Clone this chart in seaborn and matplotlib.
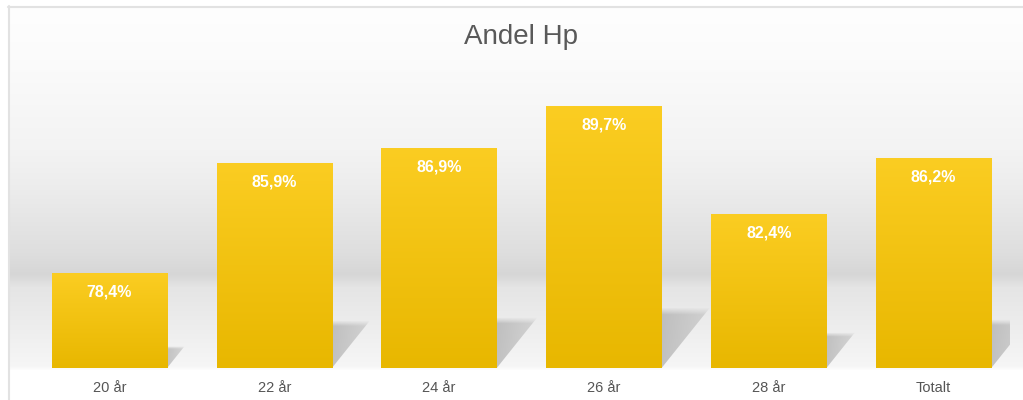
import numpy as np
import pandas as pd
import matplotlib
matplotlib.use('Agg')
import matplotlib.pyplot as plt
from matplotlib.colors import LinearSegmentedColormap
from matplotlib.patches import Polygon
import seaborn as sns

# data
categories = ['20 år', '22 år', '24 år', '26 år', '28 år', 'Totalt']
andel_hp = [78.4, 85.9, 86.9, 89.7, 82.4, 86.2]
value_labels = ['78,4%', '85,9%', '86,9%', '89,7%', '82,4%', '86,2%']

df = pd.DataFrame({'kategori': categories, 'andel': andel_hp})

sns.set_theme(style='white')
plt.rcParams['font.family'] = ['Liberation Sans', 'DejaVu Sans']

W, H = 1023, 400
fig = plt.figure(figsize=(W / 100, H / 100), dpi=100)
fig.patch.set_facecolor('white')

# background "floor" gradient behind the chart
bg = fig.add_axes([0, 0, 1, 1], zorder=0)
bg.set_xlim(0, W)
bg.set_ylim(H, 0)
bg.axis('off')
stops_y = [6, 60, 150, 190, 253, 274, 287, 320, 366, 370, 400]
stops_c = [254, 251, 243, 236, 222, 214, 229, 236, 246, 255, 255]
rows = np.interp(np.arange(6, H), stops_y, stops_c) / 255.0
grad_bg = np.repeat(rows[:, None], 2, axis=1)
bg.imshow(np.dstack([grad_bg, grad_bg, grad_bg]), extent=[8, W, H, 6],
          aspect='auto', interpolation='bilinear')
bg.plot([8, W], [6.5, 6.5], color='#e2e2e2', lw=1.5)
bg.plot([8.5, 8.5], [6, H], color='#e2e2e2', lw=1.5)

# main chart
ymin, ymax = 72, 93
ax = fig.add_axes([27 / W, 32 / H, 989 / W, 310.4 / H], zorder=1)
ax.set_facecolor('none')
sns.barplot(data=df, x='kategori', y='andel', color='#f5c518', width=0.7,
            saturation=1, ax=ax, zorder=3)
ax.set_ylim(ymin, ymax)

bar_cmap = LinearSegmentedColormap.from_list('gul', ['#e8b700', '#fbcd22'])
px_per_cat = 989 / 6
px_per_unit = 310.4 / (ymax - ymin)
x_clip = 5.5 - 6 / px_per_cat

bars = list(ax.patches)
for i, patch in enumerate(bars):
    x0 = patch.get_x()
    x1 = x0 + patch.get_width()
    top = patch.get_height()
    patch.set_edgecolor('none')
    # gradient fill
    g = np.linspace(0, 1, 256)[:, None]
    im = ax.imshow(g, extent=[x0, x1, ymin, top], origin='lower', aspect='auto',
                   cmap=bar_cmap, zorder=3.5, interpolation='bilinear')
    im.set_clip_path(patch)
    # soft shadow on the floor
    h_px = 0.23 * (top - ymin) * px_per_unit
    dx = 0.8 * h_px / px_per_cat
    h = h_px / px_per_unit
    xr = min(x1 + dx, x_clip)
    if x1 + dx > x_clip:
        pts = [(x0, ymin), (x1, ymin), (xr, ymin + h * (xr - x1) / dx),
               (xr, ymin + h), (x0 + dx, ymin + h)]
    else:
        pts = [(x0, ymin), (x1, ymin), (x1 + dx, ymin + h), (x0 + dx, ymin + h)]
    shadow = Polygon(pts, closed=True, facecolor='none', edgecolor='none', zorder=2)
    ax.add_patch(shadow)
    u = np.linspace(0, 1, 80)[None, :]
    v = np.linspace(0, 1, 60)[:, None]
    alpha = 0.75 * (1 - 0.45 * u) * np.clip((1 - v) / 0.12, 0, 1)
    rgba = np.zeros((60, 80, 4))
    rgba[..., :3] = 0.68
    rgba[..., 3] = alpha
    sim = ax.imshow(rgba, extent=[x1 - 0.02, x1 + dx, ymin, ymin + h], origin='lower',
                    aspect='auto', zorder=2, interpolation='bilinear')
    sim.set_clip_path(shadow)
    # value label
    ax.text(i, top - 19 / px_per_unit, value_labels[i], ha='center', va='center',
            color='white', fontsize=11.5, fontweight='bold', zorder=5)

ax.set_xlim(-0.5, 5.5)
ax.set_ylim(ymin, ymax)
ax.set_xlabel('')
ax.set_ylabel('')
ax.set_yticks([])
ax.tick_params(axis='x', length=0, pad=9, labelsize=10.5, labelcolor='#555555')
sns.despine(ax=ax, left=True, bottom=True)

fig.text(521 / W, 1 - 37 / H, 'Andel Hp', fontsize=20, color='#595959',
         ha='center', va='center')

fig.savefig('out.png', dpi=100)
